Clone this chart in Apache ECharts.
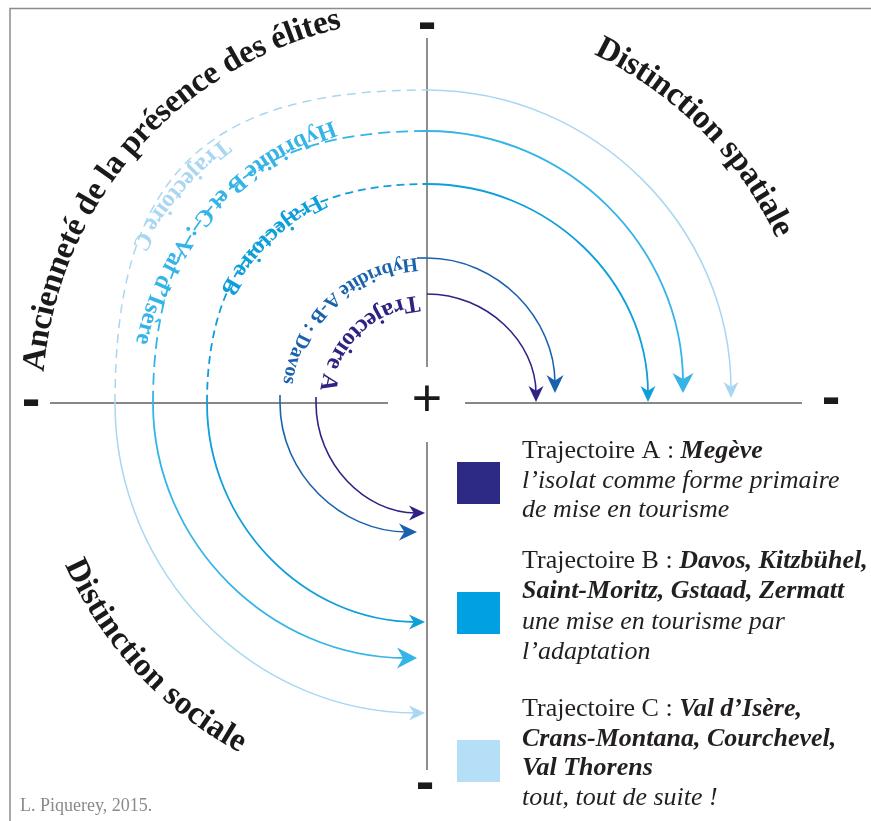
<!DOCTYPE html>
<html><head><meta charset="utf-8">
<script src="https://cdn.jsdelivr.net/npm/echarts/dist/echarts.min.js"></script>
<style>html,body{margin:0;padding:0;background:#fff}#c{width:871px;height:821px}</style>
</head><body><div id="c"></div>
<script>
// ---------------- data (centre of the cross = 0,0) ----------------
const trajectoryNames = ['Trajectoire A', 'Hybridité A-B : Davos', 'Trajectoire B', 'Hybridité B et C : Val d\u2019Isère', 'Trajectoire C'];
const leftAxisX   = [-111, -147, -220, -274, -312];   // where each trajectory leaves the left axis
const topAxisY    = [109, 145, 219, 272, 313];        // crossing of the upper axis
const rightTipX   = [109, 128, 221, 256, 304];        // arrow tips on the right axis
const rightTipY   = [1, 10, 1, 10, 5];
const bottomTipX  = [-2, -10, -2, -10, -2];           // arrow tips on the lower axis
const bottomTipY  = [-110, -129, -219, -255, -310];
const upperStartX = [0, -10, 0, 0, 0];
const lowerStartY = [6, 8, 0, 0, 0];

const labelRadius = [101, 140, 229, 291, 328];
const labelAngle  = [98.7, 97, 118.8, 110.3, 129];

const quadrantTitles = ['Ancienneté de la présence des élites', 'Distinction spatiale', 'Distinction sociale'];
const titleRadius = [393, 395, 388];
const titleAngle  = [173.6, 62.7, 205.8];

const axisSegments = [[0, 365, 0, 36], [0, -39, 0, -367], [-377, 0, -39, 0], [38, 0, 375, 0]];
const signTexts = ['-', '-', '-', '-', '+'];
const signX = [0, -396, 404, -2, 0];
const signY = [376, -1, 1, -384, 1];

const legendHeads  = ['Trajectoire A : ', 'Trajectoire B : ', 'Trajectoire C : '];
const legendPlaces = [['Megève'], ['Davos, Kitzbühel,', 'Saint-Moritz, Gstaad, Zermatt'], ['Val d\u2019Isère,', 'Crans-Montana, Courchevel,', 'Val Thorens']];
const legendNotes  = [['l\u2019isolat comme forme primaire', 'de mise en tourisme'], ['une mise en tourisme par', 'l\u2019adaptation'], ['tout, tout de suite !']];
const creditText = 'L. Piquerey, 2015.';

// ---------------- styles ----------------
const SERIF = '"Liberation Serif", "Times New Roman", serif';
const trajColors = ['#2e2383', '#1a62ad', '#0e9fdb', '#35b4e8', '#a9d7f1'];
const legendColors = ['#2c2a85', '#00a0e2', '#b4dff7'];
const dashPattern = [null, null, [8, 5], [12, 6], [9, 6]];
const bulge = [0, 0, 0.66, 0.68, 0.72];
const lineW = [1.6, 1.6, 1.8, 1.8, 1.5];
const arrowLen = [16, 18, 16, 20, 16];
const arrowWid = [15, 17, 15, 21, 15];
const labelFontSize = [24, 20, 24, 24, 24];
const titleDir = [-1, -1, 1];
const legendBaselines = [[460, 490, 519], [570, 600, 631, 661], [718, 748, 777, 807]];
const legendSquareTop = [462, 592, 740];

const mctx = document.createElement('canvas').getContext('2d');
function measure(font, s) { mctx.font = font; return mctx.measureText(s).width; }

function curvedChars(text, font, color, cx, cy, rPx, theta0Deg, dir) {
  const chars = Array.from(text);
  const ws = chars.map(ch => measure(font, ch));
  const els = [];
  let acc = 0;
  for (let j = 0; j < chars.length; j++) {
    const along = acc + ws[j] / 2 - ws[0] / 2;
    acc += ws[j];
    if (chars[j] === ' ') continue;
    const th = theta0Deg * Math.PI / 180 + dir * along / rPx;
    els.push({
      type: 'text', x: cx + rPx * Math.cos(th), y: cy - rPx * Math.sin(th),
      rotation: th + dir * Math.PI / 2,
      style: { text: chars[j], font: font, fill: color, align: 'center', verticalAlign: 'middle' }
    });
  }
  return els;
}

const K = 0.5523;
function renderTrajectory(params, api) {
  const i = params.dataIndex;
  const L = api.value(0), T = api.value(1), rx = api.value(2), ry = api.value(3);
  const bx = api.value(4), by = api.value(5), usx = api.value(6), lsy = api.value(7);
  const u = 1 / api.size([1, 1])[0];
  const P = (x, y) => api.coord([x, y]);
  const st = { stroke: trajColors[i], lineWidth: lineW[i], fill: null };
  const bz = (p0, p1, p2, p3, extra) => {
    const a = P(p0[0], p0[1]), b = P(p1[0], p1[1]), c = P(p2[0], p2[1]), d = P(p3[0], p3[1]);
    return { type: 'bezierCurve', shape: { x1: a[0], y1: a[1], cpx1: b[0], cpy1: b[1], cpx2: c[0], cpy2: c[1], x2: d[0], y2: d[1] },
      style: Object.assign({}, st, extra || {}) };
  };
  const ln = (p0, p1) => { const a = P(p0[0], p0[1]), b = P(p1[0], p1[1]);
    return { type: 'line', shape: { x1: a[0], y1: a[1], x2: b[0], y2: b[1] }, style: st }; };
  const ch = [];
  const al = arrowLen[i], aw = arrowWid[i];
  // upper-left quadrant (dashed)
  if (dashPattern[i]) {
    const kk = bulge[i];
    ch.push(bz([L, 0], [L, kk * T], [kk * L, T], [0, T], { lineDash: dashPattern[i] }));
  }
  // upper-right quadrant
  if (usx < 0) ch.push(ln([usx, T], [0, T]));
  const eyR = ry + 0.55 * al * u;
  ch.push(bz([0, T], [K * rx, T], [rx, ry + K * (T - ry)], [rx, eyR]));
  const tR = P(rx, ry);
  ch.push({ type: 'polygon', shape: { points: [[tR[0], tR[1]], [tR[0] - aw / 2, tR[1] - al], [tR[0], tR[1] - 0.7 * al], [tR[0] + aw / 2, tR[1] - al]] },
    style: { fill: trajColors[i], stroke: null } });
  // lower-left quadrant
  if (lsy > 0) ch.push(ln([L, lsy], [L, 0]));
  const exB = bx - 0.55 * al * u;
  ch.push(bz([L, 0], [L, K * by], [bx - K * (bx - L), by], [exB, by]));
  const tB = P(bx, by);
  ch.push({ type: 'polygon', shape: { points: [[tB[0], tB[1]], [tB[0] - al, tB[1] - aw / 2], [tB[0] - 0.7 * al, tB[1]], [tB[0] - al, tB[1] + aw / 2]] },
    style: { fill: trajColors[i], stroke: null } });
  return { type: 'group', children: ch };
}

// ---------------- legend / annotations ----------------
const graphics = [];
graphics.push({ type: 'polyline', silent: true, shape: { points: [[10, 821], [10, 8.5], [871, 8.5]] }, style: { stroke: '#8c8c8c', lineWidth: 1.5, fill: null } });
const LF = 26;
const fReg = LF + 'px ' + SERIF, fBI = 'italic bold ' + LF + 'px ' + SERIF, fIt = 'italic ' + LF + 'px ' + SERIF;
for (let b = 0; b < 3; b++) {
  graphics.push({ type: 'rect', silent: true, shape: { x: 457, y: legendSquareTop[b], width: 43, height: 42 }, style: { fill: legendColors[b] } });
  const bl = legendBaselines[b];
  let line = 0;
  const yOf = k => bl[k] - 0.34 * LF;
  graphics.push({ type: 'text', silent: true, x: 522, y: yOf(0), style: { text: legendHeads[b], font: fReg, fill: '#231f20', verticalAlign: 'middle' } });
  const hw = measure(fReg, legendHeads[b]);
  graphics.push({ type: 'text', silent: true, x: 522 + hw, y: yOf(0), style: { text: legendPlaces[b][0], font: fBI, fill: '#231f20', verticalAlign: 'middle' } });
  line = 1;
  for (let p = 1; p < legendPlaces[b].length; p++, line++) {
    graphics.push({ type: 'text', silent: true, x: 522, y: yOf(line), style: { text: legendPlaces[b][p], font: fBI, fill: '#231f20', verticalAlign: 'middle' } });
  }
  for (let n = 0; n < legendNotes[b].length; n++, line++) {
    graphics.push({ type: 'text', silent: true, x: 522, y: yOf(line), style: { text: legendNotes[b][n], font: fIt, fill: '#231f20', verticalAlign: 'middle' } });
  }
}
graphics.push({ type: 'text', silent: true, x: 20, y: 812 - 0.34 * 18, style: { text: creditText, font: '18px ' + SERIF, fill: '#8a8a8a', verticalAlign: 'middle' } });

// ---------------- chart ----------------
const chart = echarts.init(document.getElementById('c'), null, { renderer: 'canvas', width: 871, height: 821 });
chart.setOption({
  animation: false,
  backgroundColor: '#ffffff',
  grid: { left: 0, right: 0, top: 0, bottom: 0 },
  xAxis: { type: 'value', min: -427, max: 444, show: false },
  yAxis: { type: 'value', min: -418, max: 403, show: false },
  graphic: graphics,
  series: [
    { type: 'custom', name: 'axes', silent: true, data: axisSegments,
      renderItem: (params, api) => {
        const a = api.coord([api.value(0), api.value(1)]), b = api.coord([api.value(2), api.value(3)]);
        return { type: 'line', shape: { x1: a[0], y1: a[1], x2: b[0], y2: b[1] }, style: { stroke: '#5f5f5f', lineWidth: 1.4 } };
      } },
    { type: 'custom', name: 'trajectoires', silent: true,
      data: trajectoryNames.map((n, i) => ({ name: n, value: [leftAxisX[i], topAxisY[i], rightTipX[i], rightTipY[i], bottomTipX[i], bottomTipY[i], upperStartX[i], lowerStartY[i]] })),
      renderItem: renderTrajectory },
    { type: 'custom', name: 'labels', silent: true,
      data: labelRadius.map((r, i) => [r, labelAngle[i]]),
      renderItem: (params, api) => {
        const i = params.dataIndex, c = api.coord([0, 0]);
        const rPx = api.size([api.value(0), 0])[0];
        return { type: 'group', children: curvedChars(trajectoryNames[i], 'bold ' + labelFontSize[i] + 'px ' + SERIF, trajColors[i], c[0], c[1], rPx, api.value(1), 1) };
      } },
    { type: 'custom', name: 'titles', silent: true,
      data: titleRadius.map((r, i) => [r, titleAngle[i]]),
      renderItem: (params, api) => {
        const i = params.dataIndex, c = api.coord([0, 0]);
        const rPx = api.size([api.value(0), 0])[0];
        return { type: 'group', children: curvedChars(quadrantTitles[i], 'bold 33px ' + SERIF, '#1a1a1a', c[0], c[1], rPx, api.value(1), titleDir[i]) };
      } },
    { type: 'custom', name: 'signs', silent: true,
      data: signX.map((x, i) => [x, signY[i]]),
      renderItem: (params, api) => {
        const i = params.dataIndex, p = api.coord([api.value(0), api.value(1)]);
        const isPlus = signTexts[i] === '+';
        return { type: 'text', x: p[0], y: p[1], style: { text: signTexts[i], font: isPlus ? '52px "Liberation Sans", sans-serif' : 'bold 46px "DejaVu Sans", sans-serif', fill: '#1a1a1a', align: 'center', verticalAlign: 'middle' } };
      } }
  ]
});
</script>
</body></html>
